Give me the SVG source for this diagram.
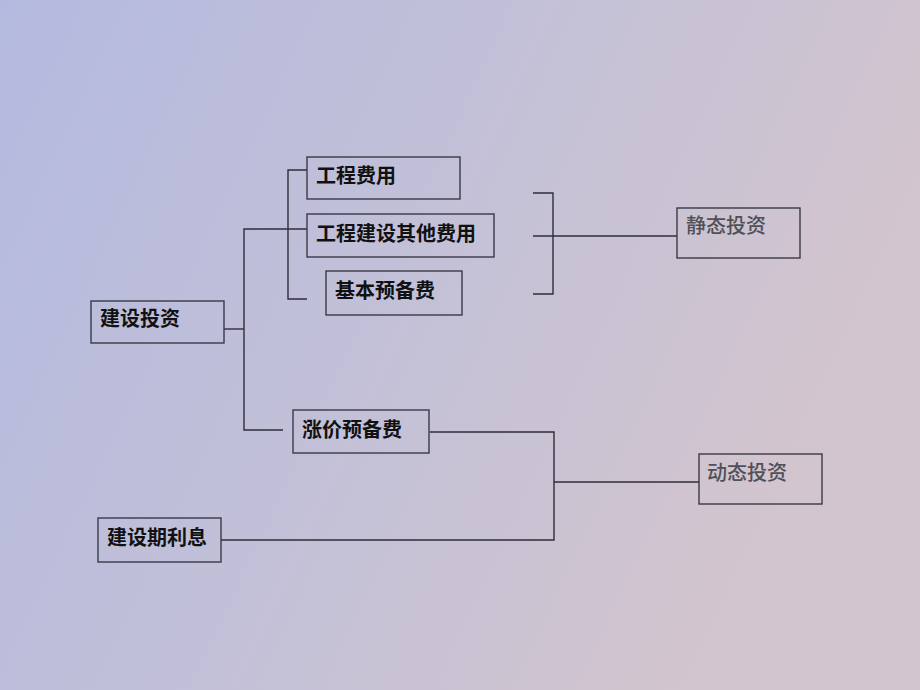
<svg xmlns="http://www.w3.org/2000/svg" width="920" height="690" viewBox="0 0 920 690">
  <defs>
    <linearGradient id="bg" x1="0" y1="0" x2="1" y2="0.35">
      <stop offset="0" stop-color="#b4badf"/>
      <stop offset="0.5" stop-color="#c2c0d8"/>
      <stop offset="1" stop-color="#d3c5cd"/>
    </linearGradient>
    <style>
      .box { fill: none; stroke: #3a3a48; stroke-width: 1.4; }
      .con { fill: none; stroke: #2e2e3a; stroke-width: 1.4; }
      .t { font-family: "Noto Sans CJK SC", "Noto Sans", sans-serif; font-size: 20px; font-weight: 600; fill: #111111; }
      .g { font-family: "Noto Sans CJK SC", "Noto Sans", sans-serif; font-size: 20px; font-weight: 500; fill: #505058; }
    </style>
  </defs>
  <rect x="0" y="0" width="920" height="690" fill="url(#bg)"/>

  <g id="connectors">
    <polyline class="con" points="224,329 244,329"/>
    <polyline class="con" points="307,229 244,229 244,430 283,430"/>
    <polyline class="con" points="307,170 288,170 288,299 307,299"/>
    <polyline class="con" points="533,193 553,193 553,294 533,294"/>
    <line class="con" x1="533" y1="236" x2="677" y2="236"/>
    <polyline class="con" points="430,432 554,432 554,540 221,540"/>
    <line class="con" x1="554" y1="482" x2="699" y2="482"/>
  </g>

  <g id="n-gcfy">
    <rect class="box" x="307" y="157" width="153" height="42"/>
    <text class="t" x="316" y="183">工程费用</text>
  </g>
  <g id="n-gcjsqtfy">
    <rect class="box" x="307" y="214" width="187" height="43"/>
    <text class="t" x="316" y="241">工程建设其他费用</text>
  </g>
  <g id="n-jbybf">
    <rect class="box" x="326" y="271" width="136" height="44"/>
    <text class="t" x="335" y="298">基本预备费</text>
  </g>
  <g id="n-jstz">
    <rect class="box" x="91" y="301" width="133" height="42"/>
    <text class="t" x="100" y="326">建设投资</text>
  </g>
  <g id="n-zjybf">
    <rect class="box" x="293" y="410" width="136" height="43"/>
    <text class="t" x="302" y="437">涨价预备费</text>
  </g>
  <g id="n-jsqlx">
    <rect class="box" x="98" y="518" width="123" height="44"/>
    <text class="t" x="107" y="545">建设期利息</text>
  </g>
  <g id="n-jttz">
    <rect class="box" x="677" y="208" width="123" height="50"/>
    <text class="g" x="686" y="233">静态投资</text>
  </g>
  <g id="n-dttz">
    <rect class="box" x="699" y="454" width="123" height="50"/>
    <text class="g" x="707" y="480">动态投资</text>
  </g>
</svg>
